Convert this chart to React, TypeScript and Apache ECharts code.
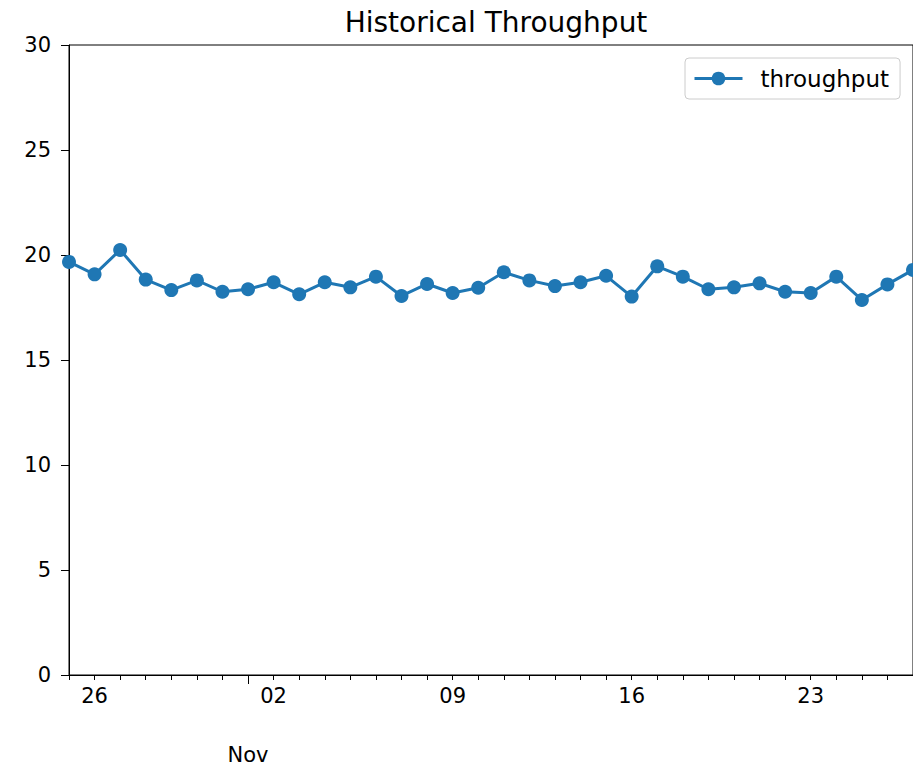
import React, { useEffect, useRef } from "react";
import * as echarts from "echarts";

const chartTitle = "Historical Throughput";
const seriesName = "throughput";

const dates = [
  "2020-10-25", "2020-10-26", "2020-10-27", "2020-10-28", "2020-10-29", "2020-10-30", "2020-10-31",
  "2020-11-01", "2020-11-02", "2020-11-03", "2020-11-04", "2020-11-05", "2020-11-06", "2020-11-07",
  "2020-11-08", "2020-11-09", "2020-11-10", "2020-11-11", "2020-11-12", "2020-11-13", "2020-11-14",
  "2020-11-15", "2020-11-16", "2020-11-17", "2020-11-18", "2020-11-19", "2020-11-20", "2020-11-21",
  "2020-11-22", "2020-11-23", "2020-11-24", "2020-11-25", "2020-11-26", "2020-11-27",
];

const throughput = [
  19.67, 19.08, 20.24, 18.83, 18.33, 18.79, 18.25,
  18.37, 18.7, 18.13, 18.7, 18.46, 18.97, 18.05,
  18.62, 18.19, 18.44, 19.18, 18.79, 18.52, 18.7,
  19.01, 18.02, 19.46, 18.97, 18.37, 18.46, 18.65,
  18.25, 18.19, 18.97, 17.86, 18.6, 19.29,
];

const monthNames = ["Jan", "Feb", "Mar", "Apr", "May", "Jun", "Jul", "Aug", "Sep", "Oct", "Nov", "Dec"];

const FONT = "DejaVu Sans";
const isMonday = (v: string) => new Date(v + "T00:00:00Z").getUTCDay() === 1;
const isMonthStart = (v: string) => v.endsWith("-01");

export default function App() {
  const ref = useRef<HTMLDivElement>(null);
  useEffect(() => {
    document.body.style.margin = "0";
    const chart = echarts.init(ref.current!, undefined, { renderer: "svg" });
    chart.setOption({
      animation: false,
      backgroundColor: "#fff",
      textStyle: { fontFamily: FONT },
      title: {
        text: chartTitle,
        left: 491,
        textAlign: "center",
        top: 3,
        textStyle: { fontFamily: FONT, fontSize: 28, fontWeight: "normal", color: "#000" },
      },
      legend: {
        data: [seriesName],
        left: 685,
        top: 58,
        orient: "vertical",
        itemWidth: 48,
        itemHeight: 17,
        padding: [9, 11, 9, 8],
        borderColor: "#cccccc",
        borderWidth: 1,
        borderRadius: 4,
        backgroundColor: "rgba(255,255,255,0.8)",
        lineStyle: { width: 3 },
        textStyle: { fontFamily: FONT, fontSize: 23, color: "#000", padding: [0, 0, 0, 13] },
      },
      grid: {
        left: 69,
        right: 0,
        top: 45,
        bottom: 92,
        show: true,
        borderColor: "#000",
        borderWidth: 1,
        containLabel: false,
      },
      xAxis: [
        {
          type: "category",
          data: dates,
          boundaryGap: false,
          axisLine: { show: true, lineStyle: { color: "#000", width: 1 } },
          axisTick: { show: true, interval: 0, length: 5, lineStyle: { color: "#000" } },
          axisLabel: {
            interval: (_i: number, v: string) => isMonday(v),
            formatter: (v: string) => v.slice(8, 10),
            margin: 10,
            fontSize: 21,
            color: "#000",
            fontFamily: FONT,
          },
          splitLine: { show: false },
        },
        {
          type: "category",
          data: dates,
          boundaryGap: false,
          position: "bottom",
          axisLine: { show: false },
          axisTick: {
            show: true,
            interval: (_i: number, v: string) => isMonthStart(v),
            length: 9,
            lineStyle: { color: "#000" },
          },
          axisLabel: {
            interval: (_i: number, v: string) => isMonthStart(v),
            formatter: (v: string) => monthNames[parseInt(v.slice(5, 7), 10) - 1],
            margin: 69,
            fontSize: 21,
            color: "#000",
            fontFamily: FONT,
          },
          splitLine: { show: false },
        },
      ],
      yAxis: {
        type: "value",
        min: 0,
        max: 30,
        interval: 5,
        axisLine: { show: true, lineStyle: { color: "#000", width: 1 } },
        axisTick: { show: true, length: 8, lineStyle: { color: "#000" } },
        axisLabel: { margin: 18, fontSize: 21, color: "#000", fontFamily: FONT },
        splitLine: { show: false },
      },
      series: [
        {
          name: seriesName,
          type: "line",
          xAxisIndex: 0,
          data: throughput,
          symbol: "circle",
          symbolSize: 14,
          showAllSymbol: true,
          lineStyle: { color: "#1f77b4", width: 3 },
          itemStyle: { color: "#1f77b4" },
          clip: false,
        },
      ],
    });
    return () => chart.dispose();
  }, []);
  return <div ref={ref} style={{ width: 913, height: 767, position: "absolute", left: 0, top: 0 }} />;
}
